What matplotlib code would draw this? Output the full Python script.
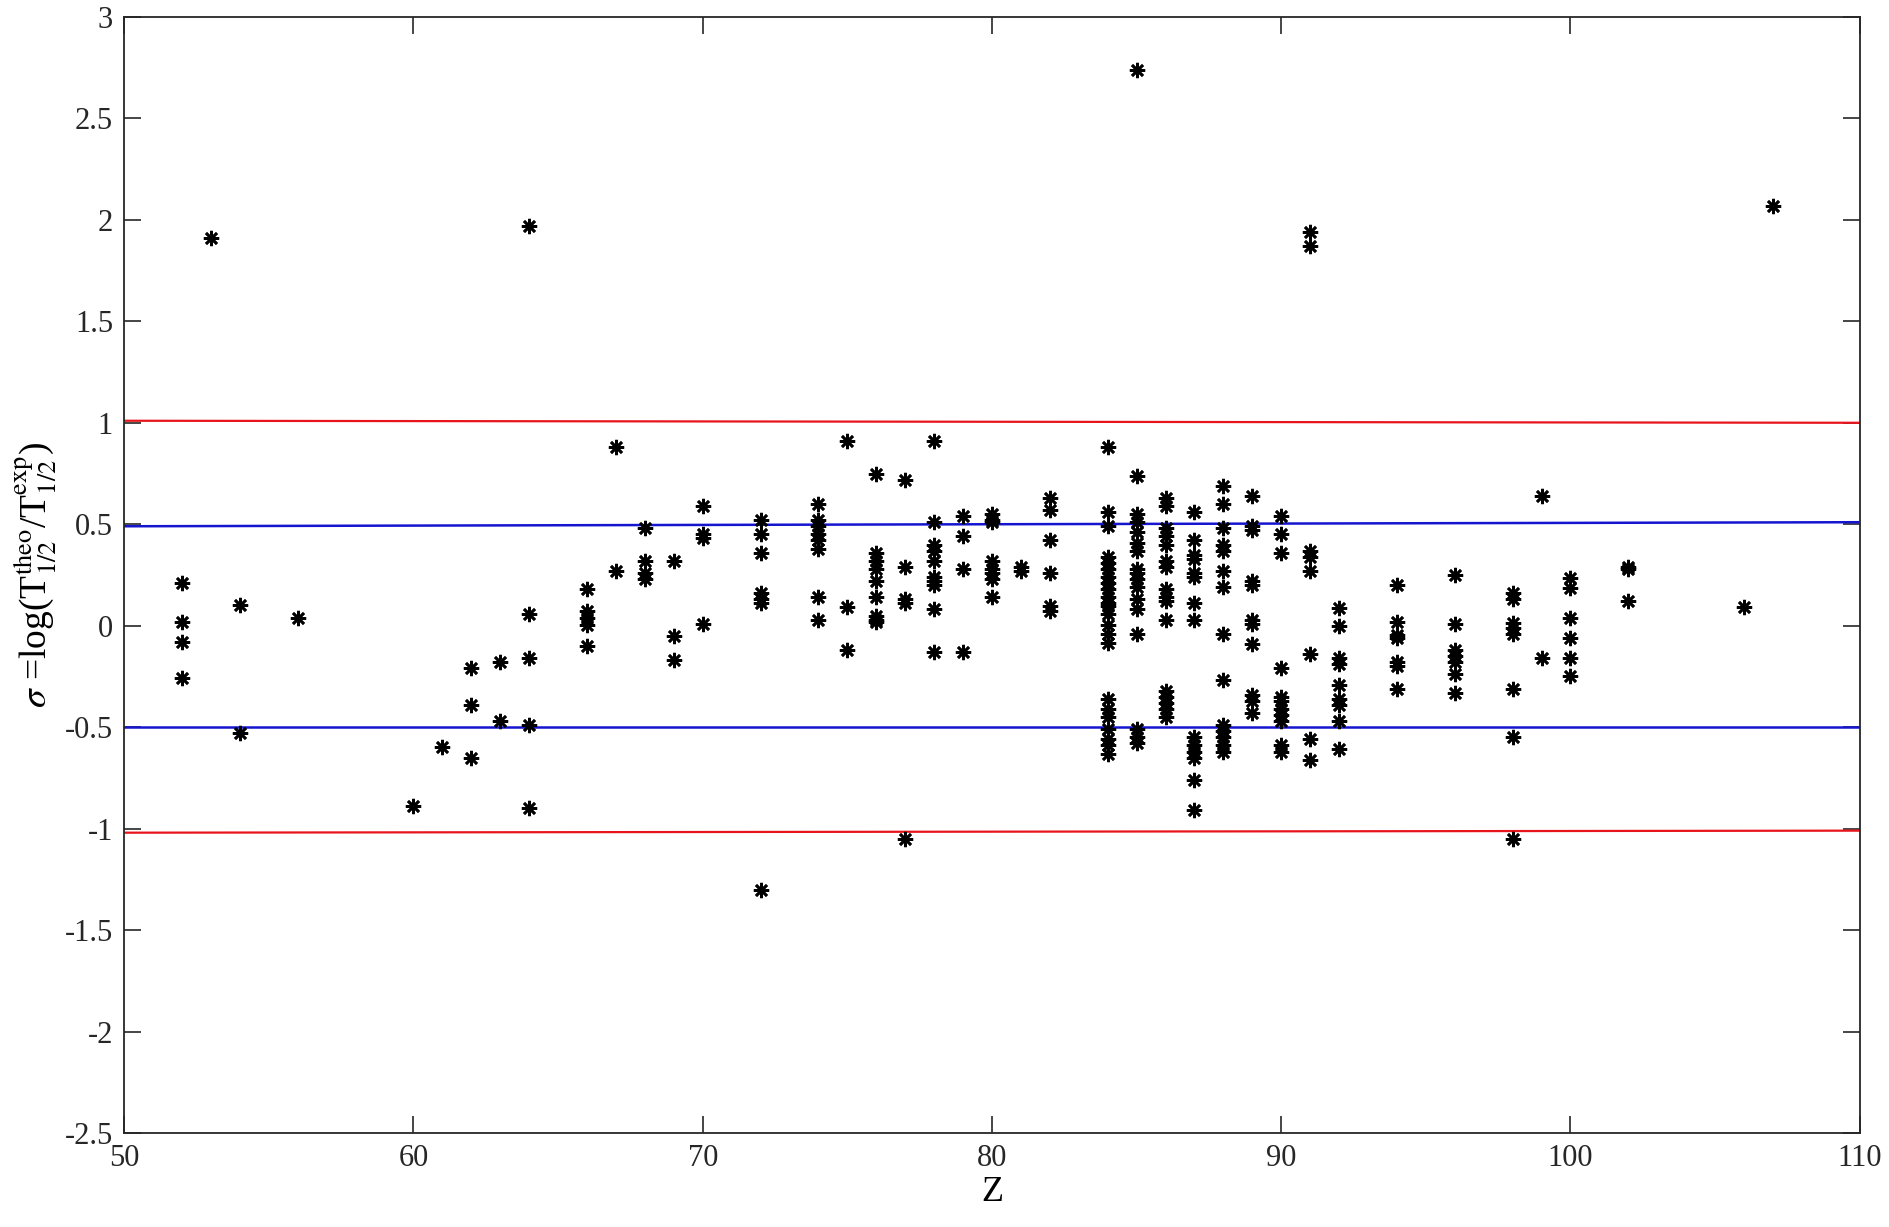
import matplotlib.pyplot as plt
import numpy as np

plt.rcParams['font.family'] = ['Liberation Serif', 'DejaVu Serif']
plt.rcParams['mathtext.fontset'] = 'stix'

# sigma values grouped by proton number Z
groups = [
    (52, [0.21, 0.02, -0.08, -0.26]),
    (53, [1.91]),
    (54, [0.10, -0.53]),
    (56, [0.04]),
    (60, [-0.89]),
    (61, [-0.60]),
    (62, [-0.21, -0.39, -0.65]),
    (63, [-0.18, -0.47]),
    (64, [1.97, 0.06, -0.16, -0.49, -0.90]),
    (66, [0.18, 0.07, 0.04, 0.005, -0.10]),
    (67, [0.88, 0.27]),
    (68, [0.48, 0.32, 0.26, 0.23]),
    (69, [0.32, -0.05, -0.17]),
    (70, [0.59, 0.45, 0.43, 0.01]),
    (72, [0.52, 0.45, 0.36, 0.16, 0.13, 0.11, -1.30]),
    (74, [0.60, 0.52, 0.49, 0.45, 0.42, 0.38, 0.14, 0.03]),
    (75, [0.91, 0.09, -0.12]),
    (76, [0.75, 0.36, 0.32, 0.28, 0.22, 0.14, 0.05, 0.03, 0.02]),
    (77, [0.72, 0.29, 0.13, 0.11, -1.05]),
    (78, [0.91, 0.51, 0.40, 0.37, 0.32, 0.24, 0.22, 0.20, 0.08, -0.13]),
    (79, [0.54, 0.44, 0.28, -0.13]),
    (80, [0.55, 0.52, 0.51, 0.32, 0.28, 0.26, 0.23, 0.14]),
    (81, [0.29, 0.27]),
    (82, [0.63, 0.57, 0.42, 0.26, 0.095, 0.07]),
    (84, [0.88, 0.56, 0.49, 0.34, 0.31, 0.28, 0.24, 0.21, 0.18, 0.14, 0.11,
          0.095, 0.06, 0.005, -0.04, -0.085, -0.36, -0.41, -0.45, -0.51,
          -0.56, -0.59, -0.63]),
    (85, [2.74, 0.74, 0.55, 0.51, 0.46, 0.41, 0.37, 0.28, 0.26, 0.23, 0.19,
          0.13, 0.08, -0.04, -0.51, -0.55, -0.58]),
    (86, [0.63, 0.59, 0.48, 0.44, 0.40, 0.32, 0.29, 0.18, 0.14, 0.12, 0.03,
          -0.32, -0.35, -0.38, -0.41, -0.45]),
    (87, [0.56, 0.42, 0.35, 0.33, 0.26, 0.24, 0.11, 0.03, -0.55, -0.59,
          -0.62, -0.65, -0.76, -0.91]),
    (88, [0.69, 0.60, 0.48, 0.40, 0.37, 0.27, 0.19, -0.04, -0.27, -0.49,
          -0.52, -0.55, -0.59, -0.62]),
    (89, [0.64, 0.49, 0.47, 0.22, 0.20, 0.03, 0.01, -0.09, -0.34, -0.37, -0.43]),
    (90, [0.54, 0.45, 0.36, -0.21, -0.35, -0.37, -0.41, -0.44, -0.47, -0.59, -0.62]),
    (91, [1.94, 1.87, 0.37, 0.34, 0.27, -0.14, -0.56, -0.66]),
    (92, [0.087, 0.0, -0.16, -0.19, -0.29, -0.36, -0.39, -0.47, -0.61]),
    (94, [0.20, 0.02, -0.045, -0.06, -0.18, -0.20, -0.31]),
    (96, [0.25, 0.01, -0.12, -0.15, -0.18, -0.24, -0.33]),
    (98, [0.16, 0.13, 0.013, -0.01, -0.04, -0.31, -0.55, -1.05]),
    (99, [0.64, -0.16]),
    (100, [0.235, 0.185, 0.04, -0.06, -0.16, -0.25]),
    (102, [0.29, 0.28, 0.12]),
    (106, [0.09]),
    (107, [2.07]),
]

z_vals = np.concatenate([[z] * len(s) for z, s in groups])
sigma_vals = np.concatenate([s for z, s in groups])

# reference lines (value at Z=50 and Z=110)
line_x = [50, 110]
red_upper = [1.01, 1.00]
red_lower = [-1.02, -1.01]
blue_upper = [0.49, 0.51]
blue_lower = [-0.50, -0.50]

fig = plt.figure(figsize=(18.9, 12.27), dpi=100)
ax = fig.add_axes([0.0657, 0.0766, 0.9183, 0.9096])

ax.plot(line_x, red_upper, color='#e8141b', lw=1.6)
ax.plot(line_x, red_lower, color='#e8141b', lw=1.6)
ax.plot(line_x, blue_upper, color='#1515d0', lw=1.8)
ax.plot(line_x, blue_lower, color='#1515d0', lw=1.8)

ax.plot(z_vals, sigma_vals, linestyle='none', marker=(8, 2, 0),
        color='black', markersize=11, markeredgewidth=1.9)

ax.set_xlim(50, 110)
ax.set_ylim(-2.5, 3)
ax.set_xticks(np.arange(50, 111, 10))
ax.set_yticks(np.arange(-2.5, 3.01, 0.5))
ax.set_yticklabels(['-2.5', '-2', '-1.5', '-1', '-0.5', '0', '0.5', '1',
                    '1.5', '2', '2.5', '3'])
ax.tick_params(direction='in', length=12, width=1.2, top=True, right=True,
               labelsize=22, colors='#262626', pad=8)
for sp in ax.spines.values():
    sp.set_linewidth(1.3)
    sp.set_color('#262626')

ax.set_xlabel('Z', fontsize=26, labelpad=2)
ax.set_ylabel(r'$\sigma$ =log(T$_{1/2}^{\rm theo}$/T$_{1/2}^{\rm exp}$)',
              fontsize=27, labelpad=4)

fig.savefig('out.png', dpi=100)
